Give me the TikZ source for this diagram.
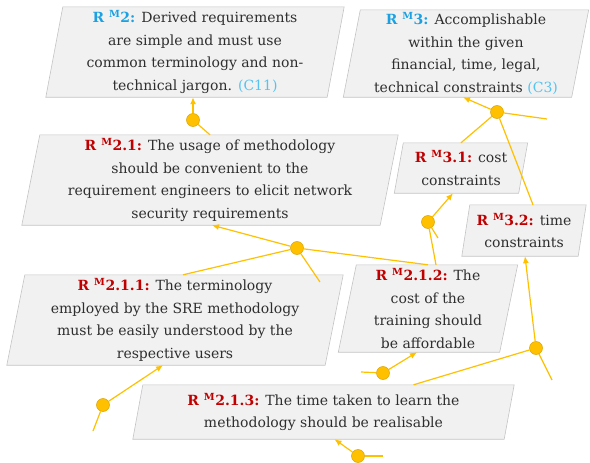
\documentclass[tikz,border=0pt]{standalone}
\usepackage{fontspec}
\setmainfont{DejaVu Serif}
\usetikzlibrary{arrows.meta}
\usetikzlibrary{backgrounds}
\definecolor{reqblue}{HTML}{1BA1E2}
\definecolor{reqcite}{HTML}{55C3F0}
\definecolor{reqred}{HTML}{C00000}
\definecolor{textdark}{HTML}{2E2E2E}
\definecolor{linkgold}{HTML}{FFC000}
\definecolor{boxfill}{HTML}{F1F1F1}
\definecolor{boxedge}{HTML}{C4C4C4}
\tikzset{>={Latex[length=7pt,width=6pt]}}
\newcommand{\rlab}[2]{\textbf{\color{#1}R \textsuperscript{M}#2:}}

\begin{document}
\begin{tikzpicture}[x=1pt,y=-1pt,
    req/.style={align=center, inner sep=0pt, text=textdark,
        font=\fontsize{14}{22.5}\selectfont},
    boxline/.style={draw=boxedge, fill=boxfill, line width=0.6pt},
    link/.style={draw=linkgold, line width=1.2pt},
    dot/.style={circle, fill=linkgold, draw=linkgold!85!black, line width=0.5pt,
        minimum size=13pt, inner sep=0pt}]
\useasboundingbox (0,0) rectangle (590,463);

% requirements
\node[req, minimum width=281pt, minimum height=90pt] (m2) at (195,52)
    {\rlab{reqblue}{2} Derived requirements\\ are simple and must use\\
     common terminology and non-\\ technical jargon. {\color{reqcite}(C11)}};
\node[req, minimum width=228pt, minimum height=87pt] (m3) at (466,53.5)
    {\rlab{reqblue}{3} Accomplishable\\ within the given\\
     financial, time, legal,\\ technical constraints {\color{reqcite}(C3)}};
\node[req, minimum width=358pt, minimum height=90pt] (m21) at (210,180)
    {\rlab{reqred}{2.1} The usage of methodology\\ should be convenient to the\\
     requirement engineers to elicit network\\ security requirements};
\node[req, minimum width=124pt, minimum height=50pt] (m31) at (461,168)
    {\rlab{reqred}{3.1} cost\\ constraints};
\node[req, minimum width=116pt, minimum height=51pt] (m32) at (524,230.5)
    {\rlab{reqred}{3.2} time\\ constraints};
\node[req, minimum width=318pt, minimum height=90pt] (m211) at (175,320)
    {\rlab{reqred}{2.1.1} The terminology\\ employed by the SRE methodology\\
     must be easily understood by the\\ respective users};
\node[req, minimum width=161pt, minimum height=87pt] (m212) at (428,308.5)
    {\rlab{reqred}{2.1.2} The\\ cost of the\\ training should\\ be affordable};
\node[req, minimum width=371pt, minimum height=54pt] (m213) at (323.5,412)
    {\rlab{reqred}{2.1.3} The time taken to learn the\\ methodology should be realisable};

\begin{scope}[on background layer]
\foreach \n/\s in {m2/8.5,m3/8.5,m21/9,m31/4.5,m32/4,m211/9,m212/9,m213/5}
    \draw[boxline] ([xshift=-\s]\n.south west) -- ([xshift=-\s]\n.south east)
        -- ([xshift=\s]\n.north east) -- ([xshift=\s]\n.north west) -- cycle;
\end{scope}

% junctions
\node[dot] (j1) at (193,120) {};
\node[dot] (j2) at (497,112) {};
\node[dot] (j3) at (297,248) {};
\node[dot] (j4) at (428,222) {};
\node[dot] (j5) at (536,348) {};
\node[dot] (j6) at (383,373) {};
\node[dot] (j7) at (103,405) {};
\node[dot] (j8) at (358,456) {};

% loose ends
\coordinate (e2) at (547,119);
\coordinate (e3) at (320,282);
\coordinate (e4) at (438,238);
\coordinate (e5) at (552,380);
\coordinate (e6) at (361,372);
\coordinate (e7) at (93,431);
\coordinate (e8) at (383,456);

% links
\draw[link,->] (j1) -- ([xshift=-2]m2.south);
\draw[link] (j1) -- (m21.north);

\draw[link,->] (j2) -- ([xshift=-3]m3.south);
\draw[link] (j2) -- (e2);
\draw[link] (j2) -- (m31.north);
\draw[link] (j2) -- ([xshift=9]m32.north);

\draw[link,->] (j3) -- ([xshift=2]m21.south);
\draw[link] (j3) -- ([xshift=8]m211.north);
\draw[link] (j3) -- (m212.north);
\draw[link] (j3) -- (e3);

\draw[link,->] (j4) -- ([xshift=-8]m31.south);
\draw[link] (j4) -- ([xshift=8]m212.north);
\draw[link] (j4) -- (e4);

\draw[link,->] (j5) -- ([xshift=1]m32.south);
\draw[link] (j5) -- ([xshift=90]m213.north);
\draw[link] (j5) -- (e5);

\draw[link,->] (j6) -- ([xshift=-11]m212.south);
\draw[link] (j6) -- (e6);

\draw[link,->] (j7) -- ([xshift=-12]m211.south);
\draw[link] (j7) -- (e7);

\draw[link,->] (j8) -- ([xshift=11]m213.south);
\draw[link] (j8) -- (e8);
\end{tikzpicture}
\end{document}
